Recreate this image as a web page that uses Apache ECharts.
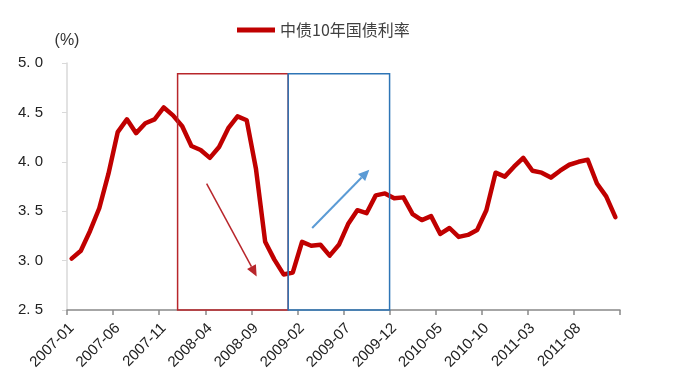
<!DOCTYPE html>
<html>
<head>
<meta charset="utf-8">
<script src="https://cdn.jsdelivr.net/npm/echarts@6/dist/echarts.min.js"></script>
<style>html,body{margin:0;padding:0;background:#fff;}#c{width:693px;height:385px;}</style>
</head>
<body>
<div id="c"></div>
<script>
const categories = (function () {
  const out = [];
  for (let y = 2007; y <= 2011; y++) {
    for (let m = 1; m <= 12; m++) out.push(y + '-' + (m < 10 ? '0' + m : m));
  }
  return out;
})();
const seriesName = '中债10年国债利率';
const yields = [
  3.02, 3.10, 3.30, 3.53, 3.88, 4.30, 4.43, 4.29, 4.39, 4.43, 4.55, 4.47,
  4.36, 4.16, 4.12, 4.04, 4.15, 4.34, 4.46, 4.42, 3.93, 3.19, 3.01, 2.86,
  2.88, 3.19, 3.15, 3.16, 3.05, 3.16, 3.37, 3.51, 3.48, 3.66, 3.68, 3.63,
  3.64, 3.47, 3.41, 3.45, 3.27, 3.33, 3.24, 3.26, 3.31, 3.51, 3.89, 3.85,
  3.95, 4.04, 3.91, 3.89, 3.84, 3.91, 3.97, 4.00, 4.02, 3.78, 3.65, 3.44
];
const yTicks = [2.5, 3.0, 3.5, 4.0, 4.5, 5.0];
// annotation boxes: [from category boundary index, to boundary index, top value]
const redBox = [11.5, 23.5, 4.89];
const blueBox = [23.5, 34.5, 4.89];
// annotation arrows: [fromIndex, fromValue, toIndex, toValue]
const redArrow = [14.65, 3.78, 20.08, 2.84];
const blueArrow = [26.1, 3.33, 32.3, 3.92];

const chart = echarts.init(document.getElementById('c'), null, {renderer: 'canvas'});
const option = {
  animation: false,
  backgroundColor: '#fff',
  grid: {left: 67, right: 73, top: 63, bottom: 75, containLabel: false},
  legend: {
    data: [{name: seriesName, icon: 'rect'}],
    left: 232, top: 17,
    itemWidth: 38, itemHeight: 5, itemGap: 6,
    textStyle: {fontSize: 16, color: '#404040', fontFamily: 'Noto Sans CJK SC'}
  },
  xAxis: {
    type: 'category',
    data: categories,
    boundaryGap: true,
    axisLine: {lineStyle: {color: '#898989', width: 1.5}},
    axisTick: {show: true, interval: 4, length: 5, lineStyle: {color: '#898989', width: 1.5}},
    axisLabel: {interval: 4, rotate: 45, margin: 16, fontSize: 15, color: '#222', fontFamily: 'Liberation Sans'},
    splitLine: {show: false}
  },
  yAxis: {
    type: 'value',
    min: yTicks[0], max: yTicks[yTicks.length - 1], interval: 0.5,
    name: '(%)',
    nameLocation: 'end',
    nameGap: 14,
    nameTextStyle: {fontSize: 16, color: '#333', fontFamily: 'Liberation Sans', align: 'center'},
    axisLine: {show: true, lineStyle: {color: '#D9D9D9', width: 1.5}},
    axisTick: {show: true, length: 5, lineStyle: {color: '#D9D9D9'}},
    axisLabel: {margin: 24, fontSize: 15, color: '#222', fontFamily: 'Liberation Sans',
      formatter: v => v.toFixed(1).replace('.', '. ')},
    splitLine: {show: false}
  },
  series: [{
    name: seriesName,
    type: 'line',
    data: yields,
    symbol: 'none',
    lineStyle: {color: '#C00000', width: 4.5, join: 'round', cap: 'round'},
    itemStyle: {color: '#C00000'},
    z: 3
  }]
};
chart.setOption(option);

function px(f, v) {
  const i0 = Math.floor(f);
  const p0 = chart.convertToPixel({gridIndex: 0}, [i0, v]);
  const p1 = chart.convertToPixel({gridIndex: 0}, [i0 + 1, v]);
  return [p0[0] + (f - i0) * (p1[0] - p0[0]), p0[1]];
}
function boxGraphic(b, color) {
  const a = px(b[0], b[2]);
  const c = px(b[1], yTicks[0]);
  return {type: 'rect', shape: {x: a[0], y: a[1], width: c[0] - a[0], height: c[1] - a[1]},
    style: {fill: null, stroke: color, lineWidth: 1.5}, z: 5};
}
function arrowGraphic(ar, color, w, hl, hw) {
  const s = px(ar[0], ar[1]);
  const e = px(ar[2], ar[3]);
  const ang = Math.atan2(e[1] - s[1], e[0] - s[0]);
  const bx = e[0] - hl * Math.cos(ang), by = e[1] - hl * Math.sin(ang);
  const nx = -Math.sin(ang) * hw, ny = Math.cos(ang) * hw;
  return [
    {type: 'line', shape: {x1: s[0], y1: s[1], x2: bx, y2: by}, style: {stroke: color, lineWidth: w}, z: 6},
    {type: 'polygon', shape: {points: [[e[0], e[1]], [bx + nx, by + ny], [bx - nx, by - ny]]}, style: {fill: color}, z: 6}
  ];
}
chart.setOption({
  graphic: [
    boxGraphic(redBox, '#B8262B'),
    boxGraphic(blueBox, '#2E75B6')
  ].concat(arrowGraphic(redArrow, '#B8262B', 1.5, 11, 5))
   .concat(arrowGraphic(blueArrow, '#5B9BD5', 2, 11, 5))
});
</script>
</body>
</html>
